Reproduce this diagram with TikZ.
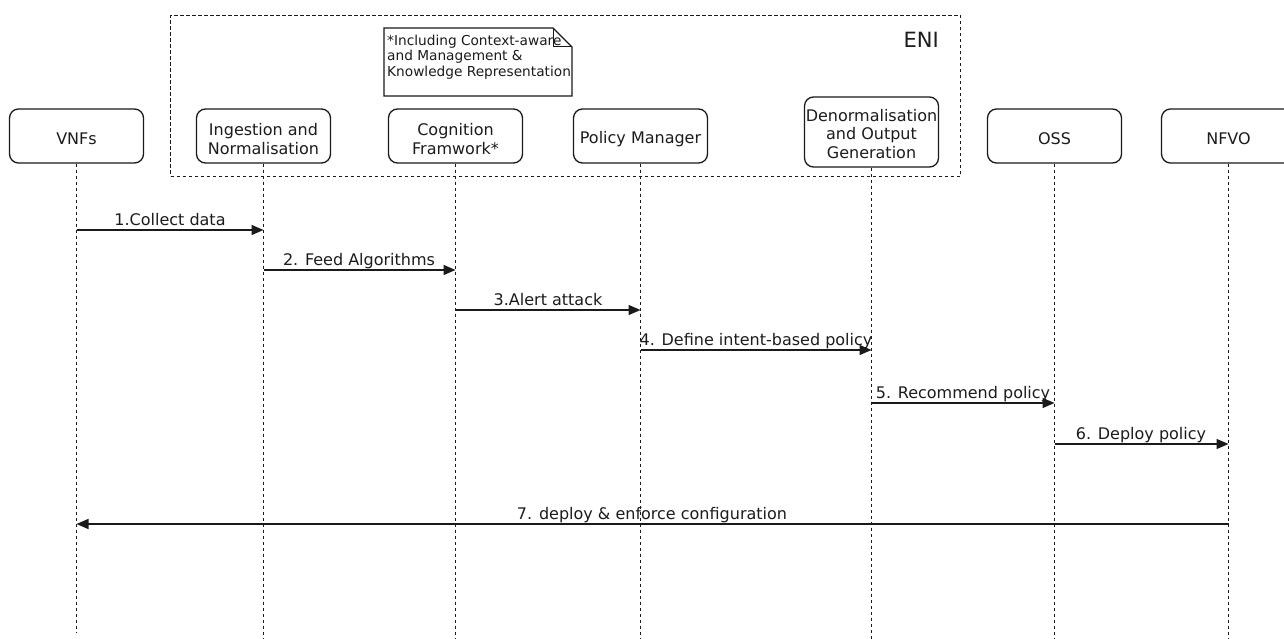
\documentclass[tikz,border=0pt]{standalone}
\usepackage{fontspec}
\setmainfont{DejaVu Sans}
\usetikzlibrary{arrows.meta}
\definecolor{ink}{HTML}{1A1A1A}
\definecolor{txt}{HTML}{1C1C1C}
\begin{document}
\begin{tikzpicture}[x=1pt,y=-1pt,
  actor/.style={draw=ink, line width=1.3pt, rounded corners=9pt, minimum width=134pt,
    minimum height=54pt, inner sep=0pt},
  atext/.style={align=center, font=\fontsize{16}{19}\selectfont, text=txt, inner sep=0pt, yshift=-3pt},
  life/.style={draw=ink, line width=1pt, dash pattern=on 3.5pt off 2.5pt},
  msg/.style={draw=ink, line width=1.5pt, -{Triangle[length=12pt,width=10pt]}},
  lbl/.style={font=\fontsize{16}{19}\selectfont, text=txt, anchor=base, inner sep=0pt}]
\useasboundingbox (0,0) rectangle (1284,639);
\clip (0,0) rectangle (1284,639);
\fill[white] (0,0) rectangle (1284,639);

% ENI group
\node[draw=ink, line width=1pt, dash pattern=on 3.5pt off 2.5pt, minimum width=790pt,
  minimum height=161pt, inner sep=0pt, outer sep=0pt] (eni) at (565.5,96) {};
\node[font=\fontsize{21}{24}\selectfont, text=txt, anchor=base east, inner sep=0pt] (enilbl) at (939,48) {ENI};

% note
\draw[draw=ink, line width=1.3pt, fill=white] (384,28) -- (553,28) -- (572,47) -- (572,96) -- (384,96) -- cycle;
\draw[draw=ink, line width=1pt] (553,28) -- (553,47) -- (572,47);
\node[anchor=north west, align=left, inner sep=0pt, text=txt, font=\fontsize{13.7}{15.5}\selectfont] (notetext) at (387,34.5)
  {*Including Context-aware\\and Management \&\\Knowledge Representation};

% actors
\node[actor] (vnf) at (76.5,136) {};
\node[actor] (ing) at (263.5,136) {};
\node[actor] (cog) at (455.5,136) {};
\node[actor] (pol) at (640.5,136) {};
\node[actor, minimum height=70pt] (den) at (871.5,132) {};
\node[actor] (oss) at (1054.5,136) {};
\node[actor] (nfvo) at (1228.5,136) {};
\node[atext] (vnft) at (vnf) {VNFs};
\node[atext] (ingt) at (ing) {Ingestion and\\Normalisation};
\node[atext] (cogt) at (cog) {Cognition\\Framwork*};
\node[atext] (polt) at (pol) {Policy Manager};
\node[atext, yshift=1pt, font=\fontsize{16}{18.3}\selectfont] (dent) at (den) {Denormalisation\\and Output\\Generation};
\node[atext] (osst) at (oss) {OSS};
\node[atext] (nfvot) at (nfvo) {NFVO};

% lifelines
\coordinate (vnfend) at (vnf.south |- 0,632);
\coordinate (ingend) at (ing.south |- 0,640);
\coordinate (cogend) at (cog.south |- 0,640);
\coordinate (polend) at (pol.south |- 0,640);
\coordinate (denend) at (den.south |- 0,640);
\coordinate (ossend) at (oss.south |- 0,640);
\coordinate (nfvoend) at (nfvo.south |- 0,640);
\draw[life] (vnf.south) -- (vnfend);
\draw[life] (ing.south) -- (ingend);
\draw[life] (cog.south) -- (cogend);
\draw[life] (pol.south) -- (polend);
\draw[life] (den.south) -- (denend);
\draw[life] (oss.south) -- (ossend);
\draw[life] (nfvo.south) -- (nfvoend);

% message points
\coordinate (m1a) at (vnf.south |- 0,230); \coordinate (m1b) at (ing.south |- 0,230);
\coordinate (m2a) at (ing.south |- 0,270); \coordinate (m2b) at (cog.south |- 0,270);
\coordinate (m3a) at (cog.south |- 0,310); \coordinate (m3b) at (pol.south |- 0,310);
\coordinate (m4a) at (pol.south |- 0,350); \coordinate (m4b) at (den.south |- 0,350);
\coordinate (m5a) at (den.south |- 0,403); \coordinate (m5b) at (oss.south |- 0,403);
\coordinate (m6a) at (oss.south |- 0,444); \coordinate (m6b) at (nfvo.south |- 0,444);
\coordinate (m7a) at (nfvo.south |- 0,524); \coordinate (m7b) at (vnf.south |- 0,524);

\draw[msg] (m1a) -- (m1b);
\draw[msg] (m2a) -- (m2b);
\draw[msg] (m3a) -- (m3b);
\draw[msg] (m4a) -- (m4b);
\draw[msg] (m5a) -- (m5b);
\draw[msg] (m6a) -- (m6b);
\draw[msg] (m7a) -- (m7b);

\node[lbl] (t1) at (170,225) {1.Collect data};
\node[lbl] (t2) at (359,265) {2. Feed Algorithms};
\node[lbl] (t3) at (548,305) {3.Alert attack};
\node[lbl] (t4) at (756,345) {4. Define intent-based policy};
\node[lbl] (t5) at (963,398) {5. Recommend policy};
\node[lbl] (t6) at (1141,439) {6. Deploy policy};
\node[lbl] (t7) at (652,519) {7. deploy \& enforce configuration};
\end{tikzpicture}
\end{document}
